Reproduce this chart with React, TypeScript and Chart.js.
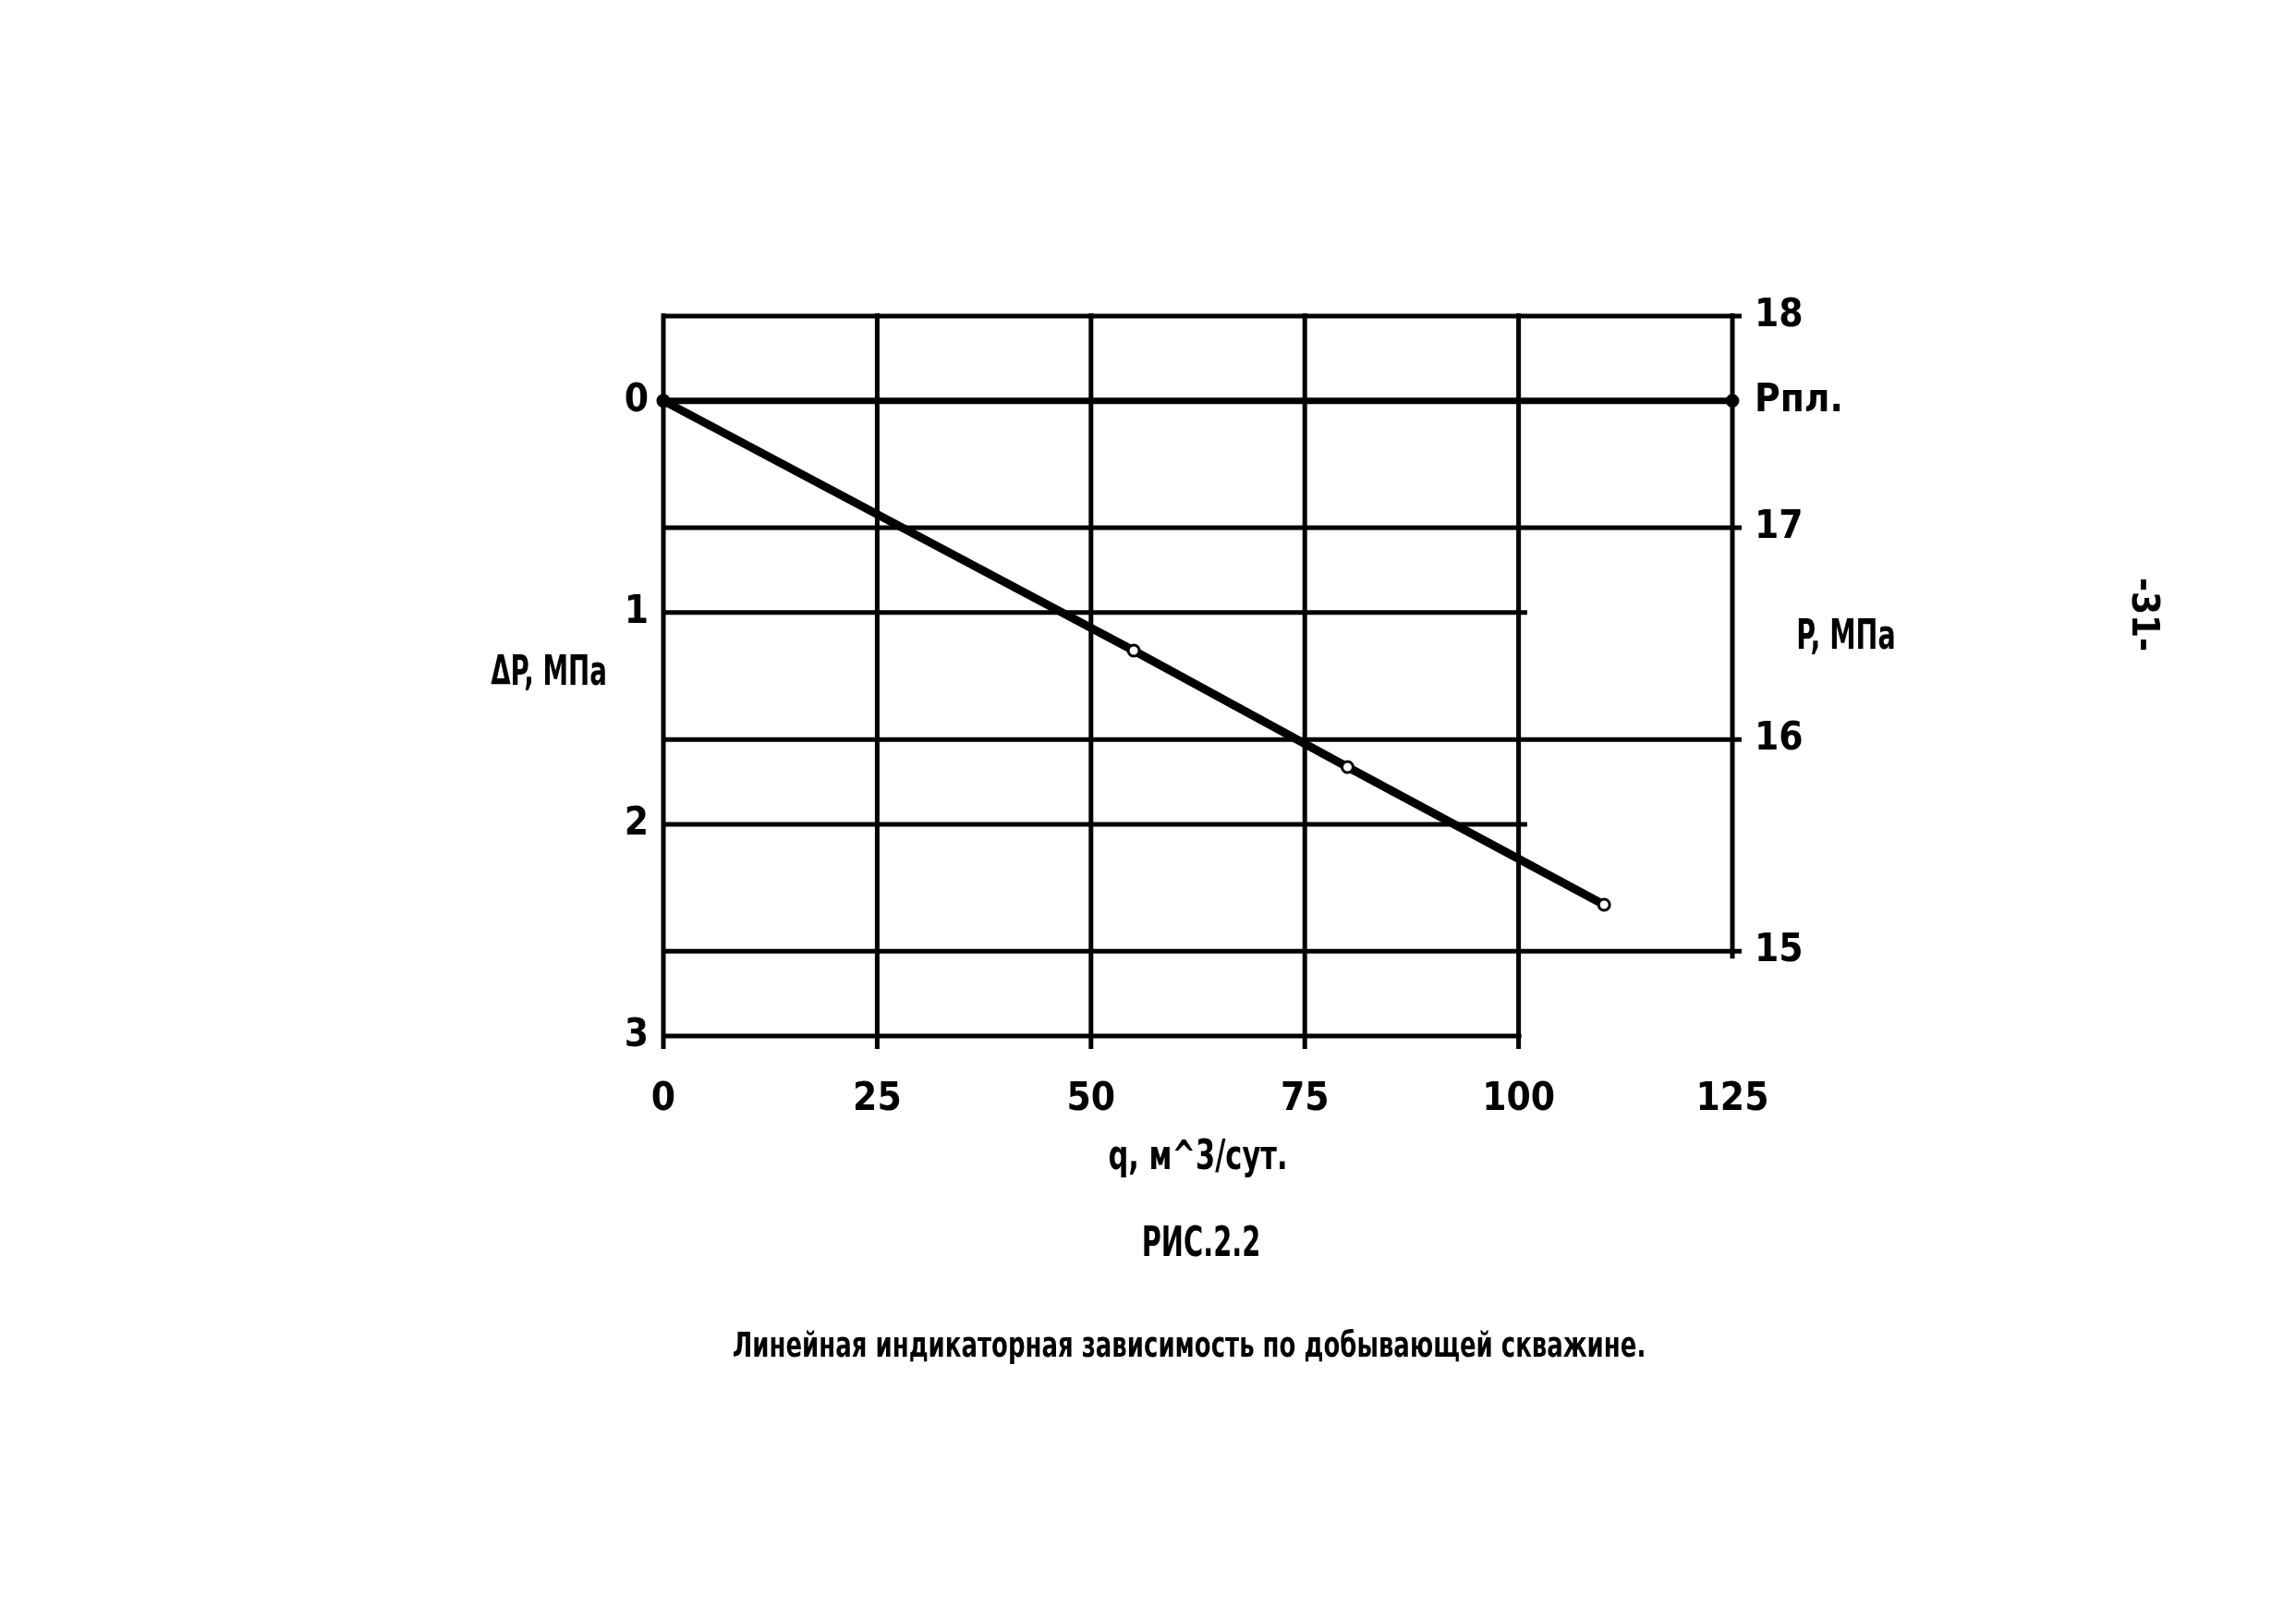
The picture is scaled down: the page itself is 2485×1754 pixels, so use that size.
import React, { useEffect, useRef } from "react";
import { Chart, registerables } from "chart.js";

Chart.register(...registerables);

const FONT = "'Liberation Sans Narrow', 'DejaVu Sans Condensed', 'Arial Narrow', sans-serif";

// ---- data ----
const flowRates = [0, 55, 80, 110]; // q, m^3/сут
const pressureDrops = [0, 1.18, 1.73, 2.38]; // ΔP, МПа
const xTickValues = [0, 25, 50, 75, 100, 125];
const dpTickValues = [0, 1, 2, 3];
const pTickValues = [15, 16, 17, 18];
const reservoirPressure = 17.6;
const reservoirLabel = "Pпл.";
const xTitle = "q, м^3/сут.";
const dpTitle = "ΔP, МПа";
const pTitle = "P, МПа";
const figLabel = "РИС.2.2";
const caption = "Линейная индикаторная зависимость по добывающей скважине.";
const pageNumber = "-31-";

const tickFont = { family: FONT, size: 42, weight: "bold" as const };

function condensedText(ctx: any, text: string, cx: number, cy: number, sx: number) {
  ctx.save();
  ctx.translate(cx, cy);
  ctx.scale(sx, 1);
  ctx.fillText(text, 0, 0);
  ctx.restore();
}

const gridPlugin = {
  id: "customGrid",
  beforeDatasetsDraw(chart: any) {
    const { ctx, scales } = chart;
    const x = scales.x;
    const yl = scales.yL;
    const yr = scales.yR;
    const xL = x.getPixelForValue(0);
    const xR = x.getPixelForValue(125);
    const xShort = x.getPixelForValue(101);
    const top = yr.getPixelForValue(18);
    const bottom = yl.getPixelForValue(3);
    const p15 = yr.getPixelForValue(15);
    ctx.save();
    ctx.strokeStyle = "#000";
    ctx.lineWidth = 5;
    ctx.beginPath();
    pTickValues.forEach((p) => {
      const y = yr.getPixelForValue(p);
      ctx.moveTo(xL, y);
      ctx.lineTo(xR + 10, y);
    });
    dpTickValues.forEach((d) => {
      if (d === 0) return;
      const y = yl.getPixelForValue(d);
      ctx.moveTo(xL, y);
      ctx.lineTo(d === 3 ? x.getPixelForValue(100) + 3 : xShort, y);
    });
    xTickValues.forEach((v) => {
      const px = x.getPixelForValue(v);
      ctx.moveTo(px, top - 3);
      if (v < 125) ctx.lineTo(px, bottom + 14);
      else ctx.lineTo(px, p15 + 8);
    });
    ctx.stroke();
    ctx.lineWidth = 7;
    ctx.beginPath();
    const y0 = yl.getPixelForValue(0);
    ctx.moveTo(xL, y0);
    ctx.lineTo(xR, y0);
    ctx.stroke();
    ctx.restore();
  },
  afterDraw(chart: any) {
    const { ctx, scales } = chart;
    const x = scales.x;
    const yl = scales.yL;
    const yr = scales.yR;
    ctx.save();
    ctx.fillStyle = "#000";
    ctx.textAlign = "center";
    ctx.textBaseline = "middle";
    ctx.font = `bold 44px ${FONT}`;
    condensedText(ctx, dpTitle, x.getPixelForValue(0) - 124, yl.getPixelForValue(1.29), 0.7);
    condensedText(ctx, pTitle, x.getPixelForValue(125) + 123, yr.getPixelForValue(16.48), 0.72);
    condensedText(
      ctx,
      xTitle,
      (x.getPixelForValue(0) + x.getPixelForValue(125)) / 2,
      yl.getPixelForValue(3) + 133,
      0.77
    );
    ctx.restore();
  },
};

export default function App() {
  const canvasRef = useRef<HTMLCanvasElement | null>(null);

  useEffect(() => {
    const canvas = canvasRef.current;
    if (!canvas) return;
    const chart = new Chart(canvas, {
      type: "line",
      data: {
        datasets: [
          {
            label: "ΔP",
            data: flowRates.map((q, i) => ({ x: q, y: pressureDrops[i] })),
            xAxisID: "x",
            yAxisID: "yL",
            borderColor: "#000",
            borderWidth: 9,
            tension: 0,
            pointRadius: 6,
            pointBorderWidth: 3,
            pointBorderColor: "#000",
            pointBackgroundColor: flowRates.map((_, i) => (i === 0 ? "#000" : "#fff")),
            clip: false as any,
          },
          {
            label: reservoirLabel,
            data: [{ x: 125, y: reservoirPressure }],
            xAxisID: "x",
            yAxisID: "yR",
            showLine: false,
            pointRadius: 7,
            pointBackgroundColor: "#000",
            pointBorderColor: "#000",
            clip: false as any,
          },
        ],
      },
      options: {
        responsive: false,
        animation: false,
        devicePixelRatio: 1,
        layout: { padding: { top: 342, left: 0, right: 0, bottom: 0 } },
        plugins: {
          legend: { display: false },
          title: { display: false },
          tooltip: { enabled: false },
        },
        scales: {
          x: {
            type: "linear",
            position: "bottom",
            min: 0,
            max: 125,
            grid: { display: false, drawTicks: false },
            border: { display: false },
            afterBuildTicks: (s: any) => {
              s.ticks = xTickValues.map((v) => ({ value: v }));
            },
            afterFit: (s: any) => {
              s.height = 633;
            },
            ticks: {
              color: "#000",
              font: tickFont,
              padding: 44,
              autoSkip: false,
              maxRotation: 0,
              callback: (v: any) => String(v),
            },
          },
          yL: {
            type: "linear",
            position: "left",
            reverse: true,
            min: -0.4,
            max: 3,
            grid: { display: false, drawTicks: false },
            border: { display: false },
            afterBuildTicks: (s: any) => {
              s.ticks = dpTickValues.map((v) => ({ value: v }));
            },
            afterFit: (s: any) => {
              s.width = 718;
            },
            ticks: {
              color: "#000",
              font: tickFont,
              padding: 16,
              autoSkip: false,
              callback: (v: any) => String(v),
            },
          },
          yR: {
            type: "linear",
            position: "right",
            min: 14.6,
            max: 18,
            grid: { display: false, drawTicks: false },
            border: { display: false },
            afterBuildTicks: (s: any) => {
              s.ticks = [...pTickValues, reservoirPressure].map((v) => ({ value: v }));
            },
            afterFit: (s: any) => {
              s.width = 610;
            },
            ticks: {
              color: "#000",
              font: tickFont,
              padding: 24,
              autoSkip: false,
              callback: (v: any) => (v === reservoirPressure ? reservoirLabel : String(v)),
            },
          },
        },
      },
      plugins: [gridPlugin],
    } as any);
    return () => chart.destroy();
  }, []);

  const textStyle: React.CSSProperties = {
    position: "absolute",
    fontFamily: FONT,
    fontWeight: "bold",
    color: "#000",
    whiteSpace: "nowrap",
    lineHeight: 1,
  };

  return (
    <div style={{ position: "absolute", left: 0, top: 0, width: 2485, height: 1754, background: "#fff" }}>
      <canvas ref={canvasRef} width={2485} height={1754} style={{ display: "block" }} />
      <div style={{ ...textStyle, left: 1300, top: 1344, fontSize: 44, transform: "translate(-50%, -50%) scaleX(0.73)" }}>
        {figLabel}
      </div>
      <div style={{ ...textStyle, left: 1287, top: 1455, fontSize: 38, transform: "translate(-50%, -50%) scaleX(0.76)" }}>
        {caption}
      </div>
      <div
        style={{
          ...textStyle,
          left: 2322,
          top: 665,
          fontSize: 40,
          transform: "translate(-50%, -50%) rotate(90deg)",
        }}
      >
        {pageNumber}
      </div>
    </div>
  );
}
